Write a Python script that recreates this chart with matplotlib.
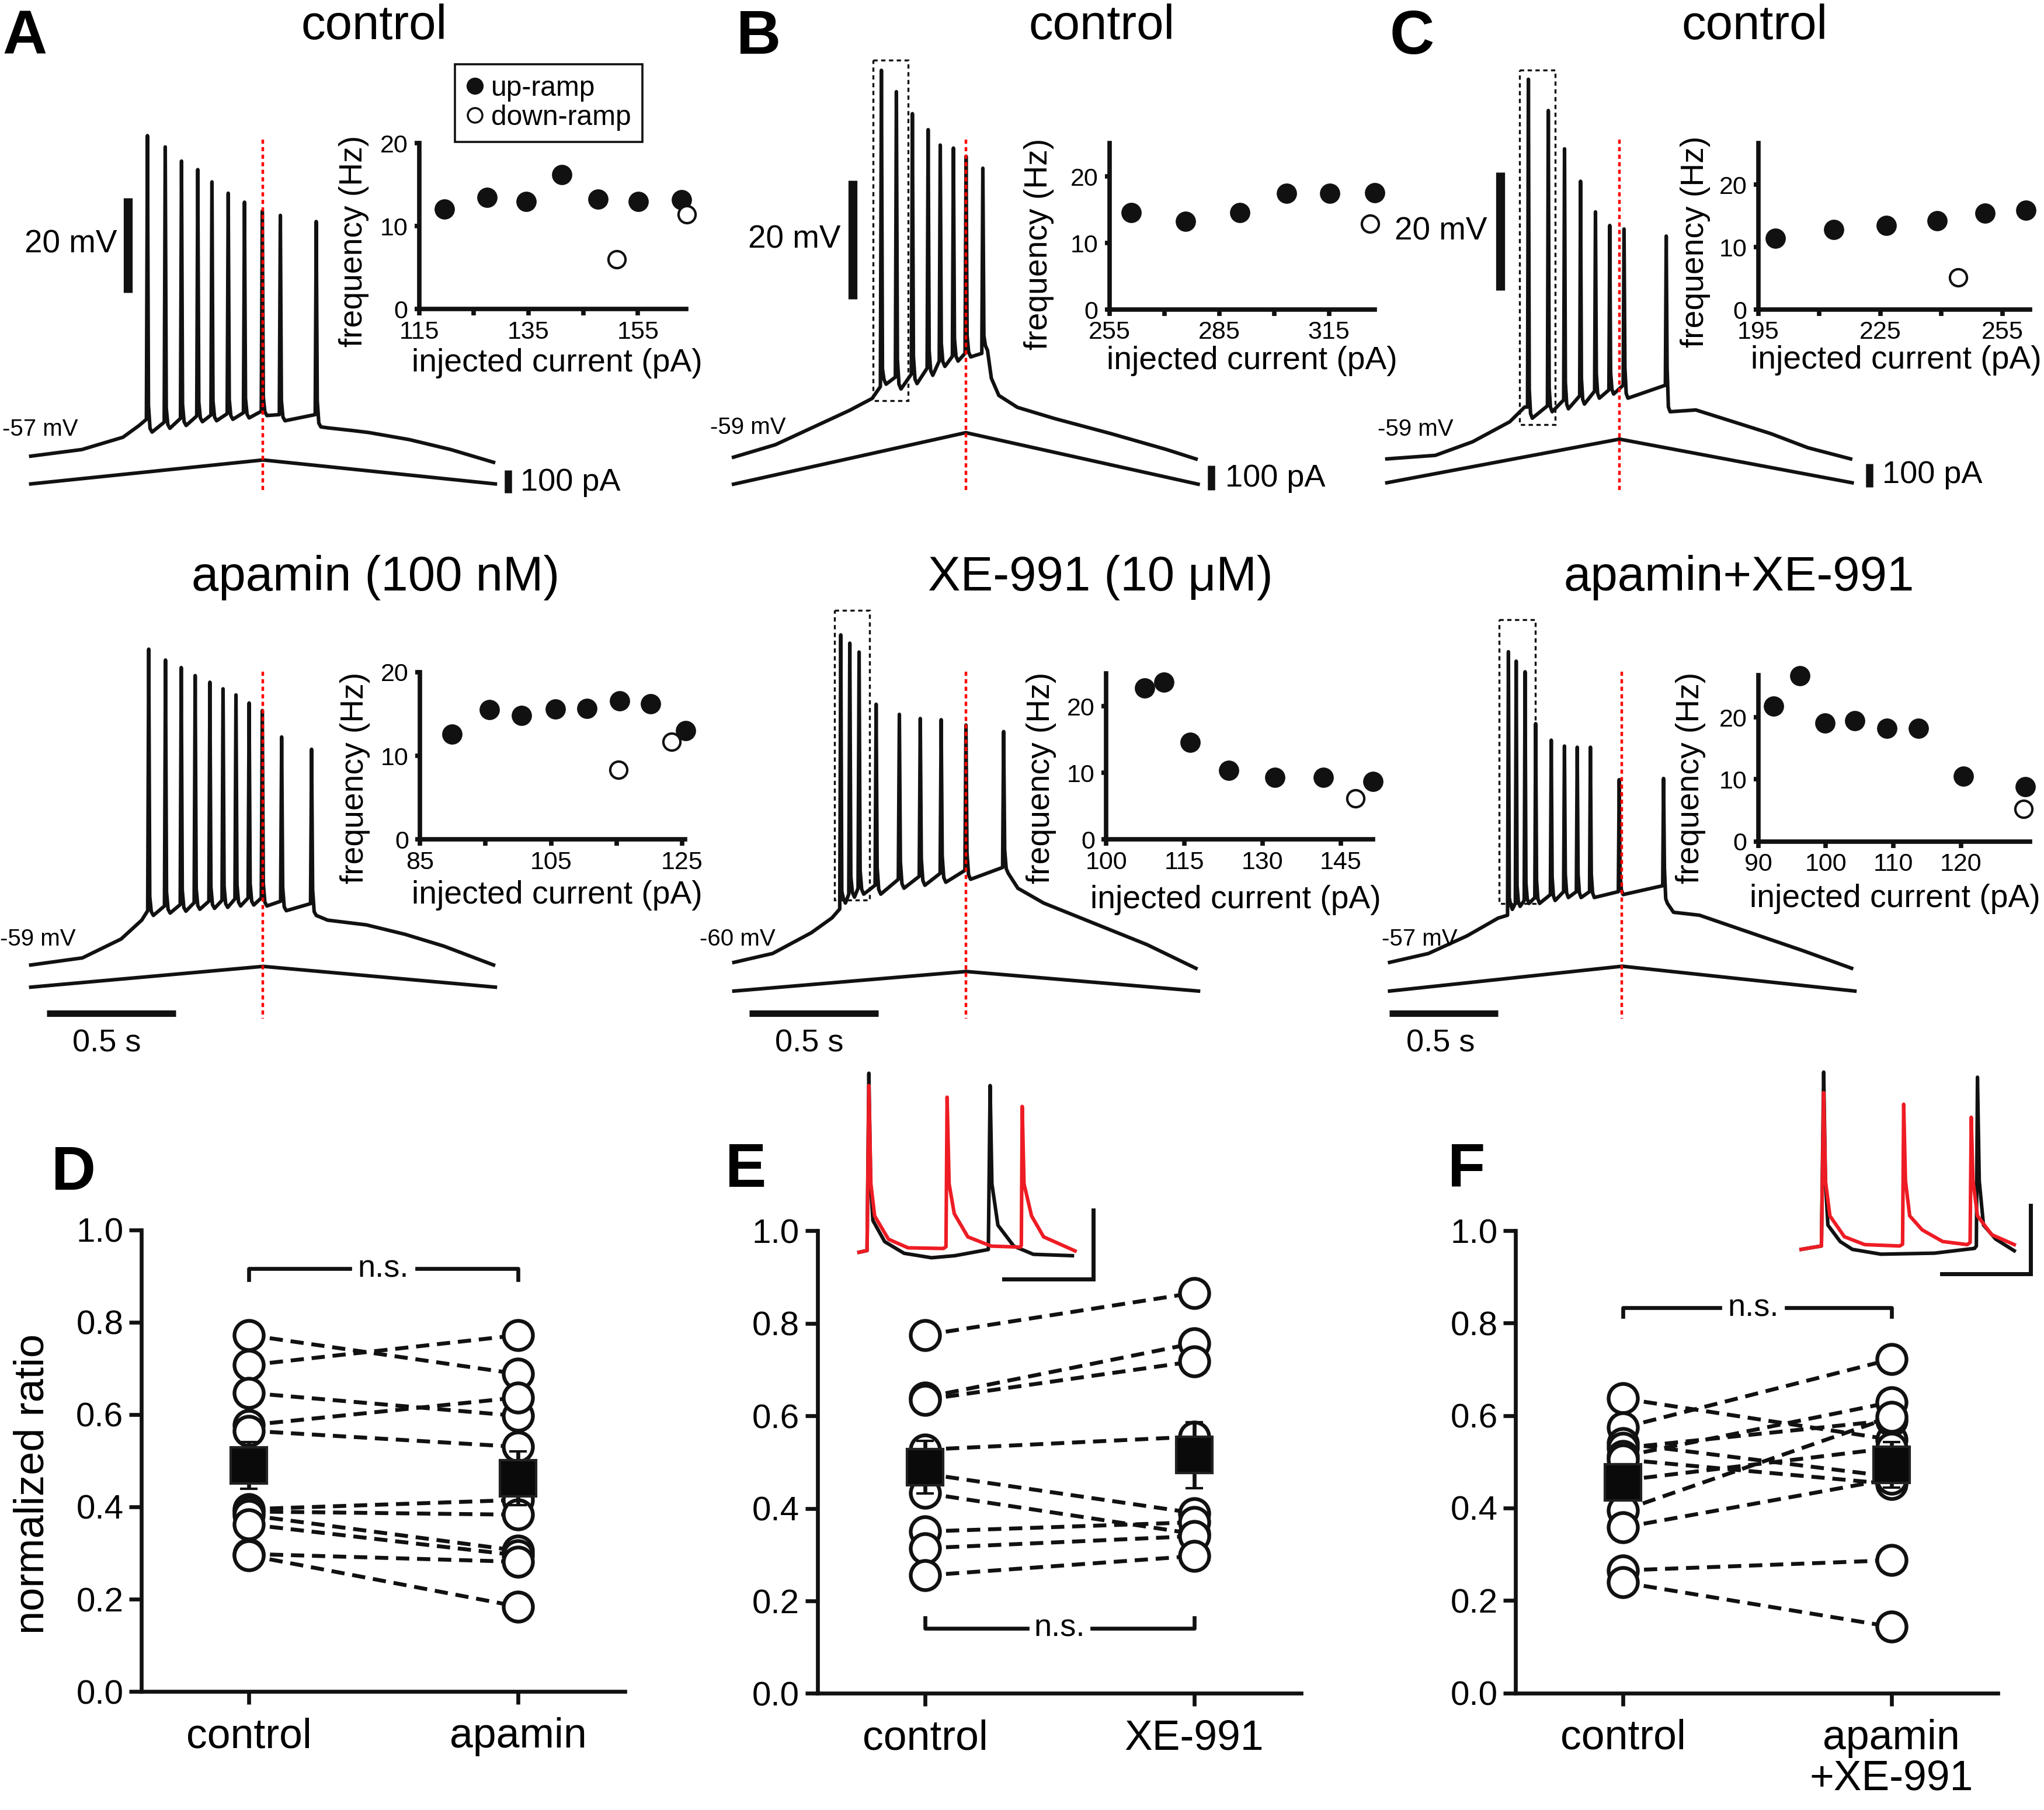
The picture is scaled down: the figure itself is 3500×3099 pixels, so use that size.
import numpy as np
import matplotlib.pyplot as plt
from matplotlib.patches import Rectangle

plt.rcParams['font.family'] = ['Liberation Sans', 'DejaVu Sans']

# layout grid: page is 1568 x 1388 units
GW, GH = 1568.0, 1388.0
INK = '#111111'
RED = '#ee1c24'

############################
# frequency insets (pA, Hz)
############################
a1_up_x = [119.6, 127.4, 134.6, 141.1, 147.7, 155.1, 163.0]
a1_up_y = [12.1, 13.5, 13.0, 16.2, 13.3, 13.0, 13.2]
a1_dn_x = [151.1, 163.9]
a1_dn_y = [6.0, 11.4]

b1_up_x = [260.9, 275.8, 290.6, 303.4, 315.3, 327.5]
b1_up_y = [14.6, 13.3, 14.6, 17.5, 17.5, 17.6]
b1_dn_x = [326.2]
b1_dn_y = [12.9]

c1_up_x = [199.2, 213.6, 226.5, 239.0, 250.8, 260.8]
c1_up_y = [11.4, 12.8, 13.5, 14.2, 15.4, 15.9]
c1_dn_x = [244.1]
c1_dn_y = [5.1]

a2_up_x = [89.9, 95.6, 100.5, 105.7, 110.5, 115.5, 120.2, 125.5]
a2_up_y = [12.6, 15.5, 14.8, 15.6, 15.7, 16.6, 16.2, 13.0]
a2_dn_x = [115.3, 123.4]
a2_dn_y = [8.3, 11.7]

b2_up_x = [107.4, 111.1, 116.1, 123.5, 132.4, 141.7, 151.2]
b2_up_y = [22.8, 23.6, 14.6, 10.4, 9.3, 9.3, 8.7]
b2_dn_x = [147.8]
b2_dn_y = [6.2]

c2_up_x = [92.3, 96.2, 99.9, 104.3, 109.0, 113.7, 120.4, 129.5]
c2_up_y = [21.8, 26.7, 19.1, 19.4, 18.2, 18.2, 10.5, 8.8]
c2_dn_x = [129.3]
c2_dn_y = [5.2]

############################
# ramp recordings (s, mV)
############################
# A control
a1_pre_t = [0.0, 0.198, 0.357, 0.42]
a1_pre_v = [-57.0, -55.6, -53.0, -50.5]
a1_spk_t = [0.452, 0.521, 0.584, 0.647, 0.702, 0.765, 0.828, 0.897, 0.967, 1.106]
a1_spk_pk = [10.9, 8.5, 5.5, 3.7, 1.1, -1.3, -3.2, -5.1, -6.0, -7.3]
a1_spk_th = [-49.2, -49.8, -49.0, -48.5, -48.3, -48.0, -47.8, -47.5, -48.2, -48.2]
a1_spk_tr = [-51.9, -51.1, -50.5, -49.7, -49.5, -49.2, -48.9, -48.4, -49.5, -50.8]
a1_post_t = [1.15, 1.25, 1.31, 1.467, 1.627, 1.793]
a1_post_v = [-51.0, -51.6, -52.0, -53.5, -55.6, -58.3]
a1_ramp = [0, 105.0, 0]
a1_ramp_t = [0, 0.9, 1.8]

# B control
b1_pre_t = [0.0, 0.162, 0.306, 0.450, 0.537]
b1_pre_v = [-59.0, -56.9, -54.0, -51.1, -49.1]
b1_spk_t = [0.573, 0.631, 0.693, 0.754, 0.801, 0.852, 0.901, 0.966]
b1_spk_pk = [6.2, 2.6, -1.1, -3.8, -6.4, -6.9, -8.3, -10.3]
b1_spk_th = [-47.1, -45.5, -45.0, -44.0, -42.8, -42.0, -41.5, -41.5]
b1_spk_tr = [-46.7, -47.5, -46.6, -45.2, -43.7, -42.8, -42.1, -41.0]
b1_post_t = [0.999, 1.028, 1.100, 1.245, 1.460, 1.677, 1.792]
b1_post_v = [-45.7, -48.6, -50.6, -52.5, -55.0, -57.7, -59.3]
b1_ramp = [0, 208.0, 0]
b1_ramp_t = [0, 0.9, 1.8]

# C control (longer ramp)
c1_pre_t = [0.0, 0.224, 0.396, 0.568, 0.637]
c1_pre_v = [-59.0, -58.4, -56.1, -52.7, -50.2]
c1_spk_t = [0.654, 0.746, 0.821, 0.895, 0.964, 1.030, 1.096, 1.291]
c1_spk_pk = [5.4, 0.1, -6.4, -11.9, -17.1, -19.4, -20.0, -21.2]
c1_spk_th = [-50.2, -50.0, -49.0, -48.3, -47.5, -47.3, -46.5, -46.5]
c1_spk_tr = [-52.1, -51.0, -50.5, -49.7, -48.7, -48.0, -48.7, -51.0]
c1_post_t = [1.428, 1.601, 1.773, 1.945, 2.143]
c1_post_v = [-50.7, -52.7, -54.7, -57.1, -59.0]
c1_ramp = [0, 188.0, 0]
c1_ramp_t = [0, 1.075, 2.15]

# A apamin
a2_pre_t = [0.0, 0.2, 0.35, 0.43]
a2_pre_v = [-59.0, -57.5, -53.5, -49.5]
a2_spk_t = [0.457, 0.522, 0.583, 0.637, 0.694, 0.745, 0.795, 0.846, 0.897, 0.972, 1.088]
a2_spk_pk = [7.9, 5.6, 4.0, 2.3, 0.9, -0.5, -1.8, -3.5, -5.1, -10.7, -13.3]
a2_spk_th = [-47.5, -46.5, -46.2, -45.8, -45.5, -45.3, -45.0, -44.8, -44.8, -45.5, -46.0]
a2_spk_tr = [-48.5, -48.0, -47.6, -47.2, -47.0, -46.8, -46.5, -46.3, -46.5, -47.5, -48.5]
a2_post_t = [1.15, 1.3, 1.45, 1.6, 1.793]
a2_post_v = [-49.5, -50.5, -52.5, -55.0, -59.0]
a2_ramp = [0, 91.0, 0]
a2_ramp_t = [0, 0.9, 1.8]

# B XE-991
b2_pre_t = [0.0, 0.15, 0.3, 0.38]
b2_pre_v = [-60.0, -58.5, -55.0, -52.5]
b2_spk_t = [0.414, 0.449, 0.485, 0.551, 0.641, 0.722, 0.803, 0.899, 1.045]
b2_spk_pk = [-4.8, -6.2, -7.7, -16.5, -18.2, -18.9, -19.1, -20.0, -21.1]
b2_spk_th = [-51.0, -48.5, -47.5, -47.0, -46.0, -45.5, -45.0, -44.5, -44.0]
b2_spk_tr = [-50.0, -49.0, -48.5, -48.5, -47.5, -47.0, -46.5, -46.0, -45.0]
b2_post_t = [1.1, 1.2, 1.4, 1.6, 1.79]
b2_post_v = [-47.5, -50.0, -53.5, -57.0, -61.0]
b2_ramp = [0, 79.0, 0]
b2_ramp_t = [0, 0.9, 1.8]

# C apamin+XE-991 (longer ramp)
c2_pre_t = [0.0, 0.179, 0.358, 0.501]
c2_pre_v = [-57.0, -55.5, -52.5, -49.5]
c2_spk_t = [0.549, 0.585, 0.626, 0.675, 0.747, 0.808, 0.867, 0.928, 1.061, 1.266]
c2_spk_pk = [-4.3, -5.9, -7.7, -16.5, -19.3, -20.3, -20.5, -20.5, -26.0, -25.8]
c2_spk_th = [-49.0, -47.0, -46.5, -46.0, -45.5, -45.0, -45.0, -45.0, -45.0, -44.0]
c2_spk_tr = [-48.0, -47.5, -47.0, -47.0, -46.5, -46.0, -46.0, -46.0, -45.5, -47.0]
c2_post_t = [1.312, 1.432, 1.670, 1.909, 2.135]
c2_post_v = [-48.5, -49.0, -52.0, -55.0, -58.0]
c2_ramp = [0, 107.0, 0]
c2_ramp_t = [0, 1.075, 2.15]

# expanded first spikes (ms, mV from rest), black = control, red = drug
e_blk_t = [0, 3.6, 4.4, 5.2, 6.2, 11.5, 20.2, 32.5, 43, 58, 58.8, 59.6, 62.3, 69.4, 78.2, 95.7]
e_blk_v = [0, 0.5, 52.3, 20, 9.3, 3.1, -0.3, -1.6, -1.0, 0.8, 48.7, 20, 7.9, 1.8, -0.6, -1.0]
e_red_t = [0, 3.6, 4.4, 5.3, 7.0, 13.2, 22, 37.8, 39.0, 39.5, 40.4, 42.7, 48.8, 59.3, 72.4,
           72.8, 73.2, 74, 77.4, 82.8, 96.9]
e_red_v = [0, 0.5, 48.7, 20, 10.6, 3.8, 1.3, 1.1, 1.6, 45.3, 20, 11.3, 4.5, 1.8, 1.5,
           2, 42.6, 20, 10.6, 4.5, 0.4]
f_blk_t = [0, 9.1, 10.1, 10.9, 12.0, 17.5, 23.0, 35.8, 59.8, 77.8, 78.6, 79.1, 79.9, 81.8, 87.3, 95.6]
f_blk_v = [0, 1.0, 51.8, 20, 7.1, 2.3, 0, -1.4, -1.1, 0.3, 1, 50.3, 20, 7.1, 3.0, -0.4]
f_red_t = [0, 9.1, 10.1, 10.9, 12.9, 19.4, 28.5, 44.2, 45.5, 46.0, 46.8, 48.7, 54.3, 63.5,
           74.5, 75.8, 76.3, 77.1, 79.1, 85.5, 95.6]
f_red_v = [0, 1.0, 45.8, 20, 9.8, 3.7, 1.4, 1.0, 1.5, 42.4, 20, 9.8, 5.7, 2.3,
           1.4, 2, 38.6, 20, 9.8, 4.3, 1.4]

############################
# normalized ratio per cell
############################
d_ctrl = [0.772, 0.707, 0.647, 0.577, 0.565, 0.395, 0.390, 0.382, 0.362, 0.298, 0.295]
d_apa = [0.688, 0.772, 0.597, 0.637, 0.530, 0.415, 0.383, 0.305, 0.295, 0.281, 0.184]
e_ctrl = [0.775, 0.640, 0.635, 0.527, 0.475, 0.433, 0.350, 0.314, 0.255]
e_xe = [0.866, 0.757, 0.718, 0.555, 0.390, 0.345, 0.370, 0.340, 0.297]
f_ctrl = [0.637, 0.574, 0.540, 0.530, 0.512, 0.505, 0.460, 0.395, 0.358, 0.265, 0.239]
f_both = [0.548, 0.722, 0.468, 0.590, 0.629, 0.452, 0.530, 0.597, 0.463, 0.287, 0.143]


fig = plt.figure(figsize=(35, 30.99), dpi=100)


def add_ax(l, t, r, b):
    return fig.add_axes([l / GW, 1 - b / GH, (r - l) / GW, (b - t) / GH])


def ftext(x, y, s, **kw):
    kw.setdefault('ha', 'center')
    kw.setdefault('va', 'center')
    return fig.text(x / GW, 1 - y / GH, s, **kw)


ov = add_ax(0, 0, GW, GH)
ov.set_xlim(0, GW)
ov.set_ylim(GH, 0)
ov.axis('off')
ov.set_zorder(10)


def spike_path(pre_t, pre_v, st, pk, th, tr, post_t, post_v):
    t = list(pre_t)
    v = list(pre_v)
    for ti, p, h, r in zip(st, pk, th, tr):
        t += [ti - 0.004, ti, ti + 0.004, ti + 0.010, ti + 0.018]
        v += [h, p, h + 3, r + 0.8, r]
    return t + list(post_t), v + list(post_v)


def ramp_panel(rect, x0, pxs, y0, pxmv, v0, path, ramp_t, ramp, yc0, pxpa):
    l, t, r, b = rect
    ax = add_ax(l, t, r, b)
    ax.set_xlim((l - x0) / pxs, (r - x0) / pxs)
    ax.set_ylim(v0 - (b - y0) / pxmv, v0 + (y0 - t) / pxmv)
    ax.axis('off')
    tt, vv = spike_path(*path)
    ax.plot(tt, vv, color=INK, lw=4.4)
    axc = add_ax(l, t, r, b)
    axc.set_xlim(ax.get_xlim())
    axc.set_ylim(-(b - yc0) / pxpa, (yc0 - t) / pxpa)
    axc.axis('off')
    axc.plot(ramp_t, ramp, color=INK, lw=4.4)
    return ax


# ---- top row ----
ramp_panel((0, 40, 560, 400), 23.6, 198, 349.8, 3.62, -57,
           (a1_pre_t, a1_pre_v, a1_spk_t, a1_spk_pk, a1_spk_th, a1_spk_tr, a1_post_t, a1_post_v),
           a1_ramp_t, a1_ramp, 371.1, 0.175)
ramp_panel((540, 40, 1060, 400), 562.7, 198, 350.6, 4.55, -59,
           (b1_pre_t, b1_pre_v, b1_spk_t, b1_spk_pk, b1_spk_th, b1_spk_tr, b1_post_t, b1_post_v),
           b1_ramp_t, b1_ramp, 371.3, 0.19)
ramp_panel((1040, 40, 1568, 400), 1063.9, 166, 351.9, 4.52, -59,
           (c1_pre_t, c1_pre_v, c1_spk_t, c1_spk_pk, c1_spk_th, c1_spk_tr, c1_post_t, c1_post_v),
           c1_ramp_t, c1_ramp, 370.2, 0.178)
# ---- bottom row ----
ramp_panel((0, 450, 560, 800), 23.6, 198, 740, 3.62, -59,
           (a2_pre_t, a2_pre_v, a2_spk_t, a2_spk_pk, a2_spk_th, a2_spk_tr, a2_post_t, a2_post_v),
           a2_ramp_t, a2_ramp, 757, 0.175)
ramp_panel((540, 450, 1060, 800), 563, 198, 738, 4.55, -60,
           (b2_pre_t, b2_pre_v, b2_spk_t, b2_spk_pk, b2_spk_th, b2_spk_tr, b2_post_t, b2_post_v),
           b2_ramp_t, b2_ramp, 760, 0.19)
ramp_panel((1040, 450, 1568, 800), 1066, 166, 738, 4.52, -57,
           (c2_pre_t, c2_pre_v, c2_spk_t, c2_spk_pk, c2_spk_th, c2_spk_tr, c2_post_t, c2_post_v),
           c2_ramp_t, c2_ramp, 760, 0.178)

# ramp peak markers
for x in (201.8, 740.9, 1242.1):
    ov.plot([x, x], [107, 376], color='red', lw=3.2, ls=(0, (1.6, 1.3)))
for x in (201.8, 741.2, 1244.2):
    ov.plot([x, x], [515, 781], color='red', lw=3.2, ls=(0, (1.6, 1.3)))

# windows shown expanded below
for (l, t, r, b) in [(669.9, 46.3, 696.7, 307.3), (1165.9, 53.7, 1193.0, 325.6),
                     (640, 468, 667, 690), (1150, 475, 1178, 693)]:
    ov.add_patch(Rectangle((l, t), r - l, b - t, fill=False, ec=INK, lw=2.4,
                           ls=(0, (2.2, 1.8))))

# scale bars
for x, ytop, pxmv in [(98, 152, 3.62), (654.2, 138.4, 4.55), (1151, 132.1, 4.52)]:
    ov.plot([x, x], [ytop, ytop + 20 * pxmv], color=INK, lw=11, solid_capstyle='butt')
for x, ytop, pxpa in [(389.7, 360.4, 0.175), (929, 356.8, 0.19), (1433.9, 355.7, 0.178)]:
    ov.plot([x, x], [ytop, ytop + 100 * pxpa], color=INK, lw=9, solid_capstyle='butt')
for x, pxs, xl in [(36, 198, 82), (575, 198, 621), (1066, 166, 1105)]:
    ov.plot([x, x + 0.5 * pxs], [777, 777], color=INK, lw=8, solid_capstyle='butt')
    ftext(xl, 800, '0.5 s', fontsize=39)

ftext(90, 187.5, '20 mV', ha='right', fontsize=39.5)
ftext(644.7, 184, '20 mV', ha='right', fontsize=39.5)
ftext(1141, 177.4, '20 mV', ha='right', fontsize=39.5)
ftext(399, 370, '100 pA', ha='left', fontsize=39)
ftext(940, 367, '100 pA', ha='left', fontsize=39)
ftext(1444, 364, '100 pA', ha='left', fontsize=39)
ftext(60, 329, '-57 mV', ha='right', fontsize=29)
ftext(603, 328, '-59 mV', ha='right', fontsize=29)
ftext(1115, 329, '-59 mV', ha='right', fontsize=29)
ftext(58, 720, '-59 mV', ha='right', fontsize=29)
ftext(595, 720, '-60 mV', ha='right', fontsize=29)
ftext(1118, 720, '-57 mV', ha='right', fontsize=29)

# titles and panel letters
ftext(287, 20, 'control', fontsize=60)
ftext(845, 20, 'control', fontsize=60)
ftext(1346, 20, 'control', fontsize=60)
ftext(288, 443, 'apamin (100 nM)', fontsize=60)
ftext(844, 443, 'XE-991 (10 μM)', fontsize=60)
ftext(1334, 443, 'apamin+XE-991', fontsize=60)
for s, x, y in [('A', 19, 29), ('B', 582, 29), ('C', 1083, 29),
                ('D', 56.6, 900), ('E', 572, 897.6), ('F', 1125, 897.6)]:
    ftext(x, y, s, fontsize=76, fontweight='bold')


def freq_inset(rect, xlim, ylim, xticks, xlabels, up_x, up_y, dn_x, dn_y, ylab_xy, xlab_xy):
    l, t, r, b = rect
    ax = add_ax(l, t, r, b)
    ax.set_xlim(xlim)
    ax.set_ylim(ylim)
    ax.patch.set_visible(False)
    for s in ('top', 'right'):
        ax.spines[s].set_visible(False)
    for s in ('left', 'bottom'):
        ax.spines[s].set_linewidth(5.5)
        ax.spines[s].set_color(INK)
    ax.set_xticks(xticks)
    ax.set_xticklabels(xlabels)
    ax.set_yticks([0, 10, 20])
    ax.tick_params(axis='x', length=8, width=5.5, pad=6, labelsize=31, color=INK)
    ax.tick_params(axis='y', length=6, width=5.5, pad=8, labelsize=31, color=INK)
    ax.plot(up_x, up_y, 'o', ms=24, mfc=INK, mec=INK, clip_on=False, zorder=3)
    ax.plot(dn_x, dn_y, 'o', ms=21, mfc='white', mec=INK, mew=3, clip_on=False, zorder=4)
    ftext(*ylab_xy, 'frequency (Hz)', rotation=90, fontsize=39.7)
    ftext(*xlab_xy, 'injected current (pA)', fontsize=39.7)
    return ax


axA1 = freq_inset((321.6, 109.9, 526.3, 237.1), (115, 163.8), (0, 20),
                  [115, 125, 135, 145, 155], ['115', '', '135', '', '155'],
                  a1_up_x, a1_up_y, a1_dn_x, a1_dn_y, (271.6, 185), (427.2, 278.7))
freq_inset((851.1, 109.9, 1054.5, 237.4), (255, 327.5), (0, 25),
           [255, 270, 285, 300, 315], ['255', '', '285', '', '315'],
           b1_up_x, b1_up_y, b1_dn_x, b1_dn_y, (797, 187), (960.3, 277))
freq_inset((1348.8, 109.9, 1557.2, 237.4), (195, 261.8), (0, 26.6),
           [195, 210, 225, 240, 255], ['195', '', '225', '', '255'],
           c1_up_x, c1_up_y, c1_dn_x, c1_dn_y, (1300.7, 185.6), (1454.4, 276.4))
freq_inset((322.2, 515.5, 525.3, 643.7), (85, 125.4), (0, 20),
           [85, 95, 105, 115, 125], ['85', '', '105', '', '125'],
           a2_up_x, a2_up_y, a2_dn_x, a2_dn_y, (272.6, 596.5), (427.2, 686.5))
freq_inset((848.6, 516.2, 1053.2, 643.7), (100, 151.2), (0, 25),
           [100, 115, 130, 145], ['100', '115', '130', '145'],
           b2_up_x, b2_up_y, b2_dn_x, b2_dn_y, (799, 596.5), (947.7, 690))
freq_inset((1348.8, 517.7, 1557.2, 645.2), (90, 130.2), (0, 26.8),
           [90, 100, 110, 120], ['90', '100', '110', '120'],
           c2_up_x, c2_up_y, c2_dn_x, c2_dn_y, (1296.9, 596.5), (1453.5, 689.5))

leg = axA1.legend(handles=[
    plt.Line2D([], [], ls='none', marker='o', ms=20, mfc=INK, mec=INK),
    plt.Line2D([], [], ls='none', marker='o', ms=18, mfc='white', mec=INK, mew=2.5)],
    labels=['up-ramp', 'down-ramp'], loc='upper left',
    bbox_to_anchor=(349 / GW, 1 - 49.1 / GH), bbox_transform=fig.transFigure,
    fontsize=34.5, frameon=True, fancybox=False, edgecolor=INK, framealpha=1,
    handlelength=0.6, handletextpad=0.3, borderpad=0.4, labelspacing=0.1,
    borderaxespad=0)
leg.get_frame().set_linewidth(2.6)


def ratio_panel(rect, before, after, cats, ns_y, ns_dir, ns_gap):
    l, t, r, b = rect
    ax = add_ax(l, t, r, b)
    ax.set_xlim(-0.4, 1.397)
    ax.set_ylim(0, 1)
    ax.patch.set_visible(False)
    for s in ('top', 'right'):
        ax.spines[s].set_visible(False)
    for s in ('left', 'bottom'):
        ax.spines[s].set_linewidth(4.8)
        ax.spines[s].set_color(INK)
    for a0, a1 in zip(before, after):
        ax.plot([0, 1], [a0, a1], color=INK, lw=4.8, ls=(0, (3.4, 2.0)), zorder=2)
    ax.plot(np.zeros(len(before)), before, 'o', ms=36, mfc='white', mec=INK, mew=4.6,
            zorder=3, clip_on=False)
    ax.plot(np.ones(len(after)), after, 'o', ms=36, mfc='white', mec=INK, mew=4.6,
            zorder=3, clip_on=False)
    means = [np.mean(before), np.mean(after)]
    sems = [np.std(before, ddof=1) / np.sqrt(len(before)),
            np.std(after, ddof=1) / np.sqrt(len(after))]
    ax.errorbar([0, 1], means, yerr=sems, fmt='s', ms=44, mfc='#0a0a0a', mec='#222222',
                mew=3, ecolor=INK, elinewidth=4.8, capsize=11, capthick=4.8, zorder=5)
    ax.set_yticks(np.arange(0, 1.01, 0.2))
    ax.set_yticklabels(['%.1f' % v for v in np.arange(0, 1.01, 0.2)])
    ax.set_xticks([0, 1])
    ax.set_xticklabels(cats)
    ax.tick_params(axis='y', length=15, width=4.8, pad=7, labelsize=42, color=INK)
    ax.tick_params(axis='x', length=16, width=4.8, pad=16, labelsize=51.5, color=INK)
    g0, g1 = ns_gap
    ax.plot([0, 0, g0], [ns_y + ns_dir, ns_y, ns_y], color=INK, lw=4.8, clip_on=False)
    ax.plot([g1, 1, 1], [ns_y, ns_y, ns_y + ns_dir], color=INK, lw=4.8, clip_on=False)
    ax.text((g0 + g1) / 2, ns_y, 'n.s.', ha='center', va='center', fontsize=39)
    return ax


ratio_panel((108.4, 943.2, 479.3, 1297.1), d_ctrl, d_apa, ['control', 'apamin'],
            0.916, -0.024, (0.375, 0.625))
ratio_panel((627, 943.9, 998.1, 1298.6), e_ctrl, e_xe, ['control', 'XE-991'],
            0.141, 0.022, (0.38, 0.62))
axF = ratio_panel((1162.7, 943.8, 1532.6, 1298.2), f_ctrl, f_both,
                  ['control', 'apamin\n+XE-991'], 0.833, -0.018, (0.36, 0.61))
for lab in axF.get_xticklabels():
    lab.set_linespacing(1.05)
ftext(25, 1138, 'normalized ratio', rotation=90, fontsize=52)


def spike_inset(rect, t0x, y0, pxms, pxmv, blk, red, bar_x):
    l, t, r, b = rect
    ax = add_ax(l, t, r, b)
    ax.set_xlim((l - t0x) / pxms, (r - t0x) / pxms)
    ax.set_ylim(-(b - y0) / pxmv, (y0 - t) / pxmv)
    ax.axis('off')
    ax.plot(blk[0], blk[1], color=INK, lw=4.4)
    ax.plot(red[0], red[1], color=RED, lw=4.4)
    tb = (bar_x - t0x) / pxms
    vb = (y0 - (b - 9.3)) / pxmv
    ax.plot([tb - 40, tb, tb], [vb, vb, vb + 20], color=INK, lw=5,
            solid_joinstyle='miter')
    return ax


spike_inset((650, 815, 850, 990), 659, 960.3, 1.71, 2.625,
            (e_blk_t, e_blk_v), (e_red_t, e_red_v), 838.5)
spike_inset((1370, 810, 1570, 986.3), 1381.7, 958.1, 1.71, 2.625,
            (f_blk_t, f_blk_v), (f_red_t, f_red_v), 1557.8)

fig.savefig('out.png', dpi=100)
